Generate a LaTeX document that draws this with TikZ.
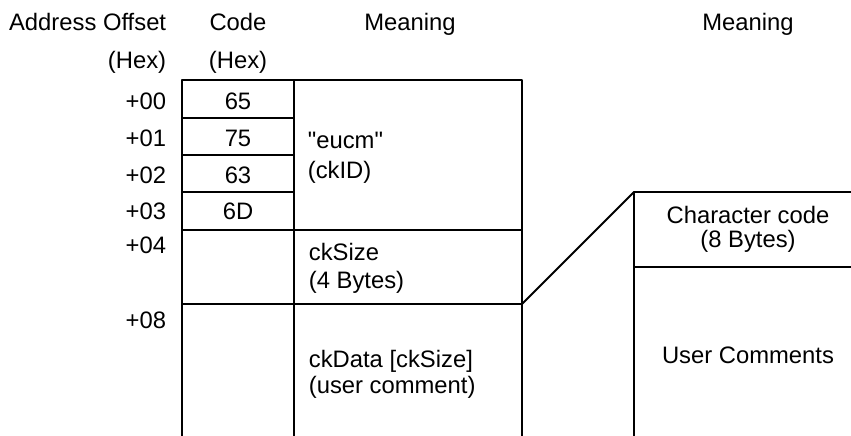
\documentclass[tikz,border=0pt]{standalone}
\usepackage{fontspec}
\setmainfont{Liberation Sans}

\begin{document}
\begin{tikzpicture}[line cap=round,line join=round,x=1pt,y=-1pt,line width=1.8pt,
  txt/.style={font=\fontsize{23.8}{28}\selectfont,inner sep=0pt}]
\useasboundingbox (0,0) rectangle (851,436);
% headers
\node[txt,anchor=base east] (addrhead) at (167,31) {Address Offset};
\node[txt,anchor=base east] (addrhex) at (167,68) {(Hex)};
\node[txt,anchor=base] (codehead) at (238,31) {Code};
\node[txt,anchor=base] (codehex) at (238,68) {(Hex)};
\node[txt,anchor=base] (meanhead) at (410,31) {Meaning};
\node[txt,anchor=base] (charhead) at (748,31) {Meaning};
% ckID table
\draw (182,436)--(182,80)--(522,80)--(522,436);
\draw (294,80)--(294,436);
\draw (182,118)--(294,118);
\draw (182,155)--(294,155);
\draw (182,192)--(294,192);
\draw (182,230)--(522,230);
\draw (182,304)--(522,304);
\foreach \off/\code/\y in {00/65/109,01/75/146,02/63/183,03/6D/219} {
  \node[txt,anchor=base east] (off\off) at (167,\y) {+\off};
  \node[txt,anchor=base] (code\off) at (238,\y) {\code};
}
\node[txt,anchor=base east] (off04) at (167,253) {+04};
\node[txt,anchor=base east] (off08) at (167,328) {+08};
\node[txt,anchor=base west] (ckid) at (307,148) {\textquotedbl eucm\textquotedbl};
\node[txt,anchor=base west] (ckidb) at (307,178) {(ckID)};
\node[txt,anchor=base west] (cksize) at (308,260) {ckSize};
\node[txt,anchor=base west] (cksizeb) at (308,288) {(4 Bytes)};
\node[txt,anchor=base west] (ckdata) at (308,367) {ckData [ckSize]};
\node[txt,anchor=base west] (ckdatab) at (308,393) {(user comment)};
% user comment layout
\draw (851,192)--(634,192)--(634,436);
\draw (634,267)--(851,267);
\node[txt,anchor=base] (charcode) at (748,223) {Character code};
\node[txt,anchor=base] (charcodeb) at (748,247) {(8 Bytes)};
\node[txt,anchor=base] (usercom) at (748,363) {User Comments};
\coordinate (sizeend) at (522,304);
\coordinate (chartop) at (634,192);
\draw (sizeend)--(chartop);
\end{tikzpicture}
\end{document}
